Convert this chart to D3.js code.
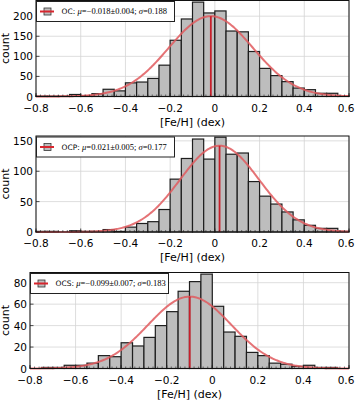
<!DOCTYPE html>
<html>
<head>
<meta charset="utf-8">
<script src="https://cdn.jsdelivr.net/npm/d3@7"></script>
<style>
  body { margin: 0; background: #fff; }
  svg { display: block; }
</style>
</head>
<body>
<svg id="chart" width="355" height="400"></svg>
<script>
// histogram bins (left edges, dex) and counts
const binStarts = [-0.80, -0.75, -0.70, -0.65, -0.60, -0.55, -0.50, -0.45, -0.40, -0.35,
                   -0.30, -0.25, -0.20, -0.15, -0.10, -0.05, 0.00, 0.05, 0.10, 0.15,
                   0.20, 0.25, 0.30, 0.35, 0.40, 0.45, 0.50, 0.55];
const binWidth = 0.05;

const ocCounts  = [1, 1, 1, 5, 2, 7, 18, 14, 34, 36, 45, 78, 140, 193, 235, 208, 213, 163, 161, 112, 70, 52, 37, 21, 17, 8, 8, 1];
const ocpCounts = [1, 1, 0, 2, 1, 1, 4, 1, 8, 14, 17, 37, 87, 121, 153, 120, 156, 128, 130, 83, 59, 46, 33, 20, 11, 6, 6, 1];
const ocsCounts = [0, 1, 1, 3, 3, 5, 12, 11, 24, 21, 29, 40, 53, 72, 81, 88, 58, 34, 30, 15, 12, 5, 4, 2, 3, 1, 1, 0];

// gaussian fits (from legend) + peak height
const sampleNames = ["OC", "OCP", "OCS"];
const fitMu    = [-0.018, 0.021, -0.099];
const fitErr   = [0.004, 0.005, 0.007];
const fitSigma = [0.188, 0.177, 0.183];
const fitPeak  = [200, 142, 67];

const xTicks = [-0.8, -0.6, -0.4, -0.2, 0, 0.2, 0.4, 0.6];
const yTicks = [[0, 50, 100, 150, 200], [0, 50, 100, 150], [0, 20, 40, 60, 80]];
const yMax = [239, 158, 89.5];

const allCounts = [ocCounts, ocpCounts, ocsCounts];

// layout
const panelTop = [0.5, 136, 272.5];
const panelLeft = [36, 36, 30];
const panelRight = 349;
const panelHeight = 96;

const svg = d3.select("#chart");
const fmt = d => (d < 0 ? "\u2212" : "") + (d === 0 ? "0" : d3.format(".1f")(Math.abs(d)));

function fmt3(v) {
    return (v < 0 ? "\u2212" : "") + d3.format(".3f")(Math.abs(v));
}

function drawPanel(i) {
    const counts = allCounts[i];
    const top = panelTop[i], left = panelLeft[i];
    const bottom = top + panelHeight;

    const x = d3.scaleLinear().domain([-0.8, 0.6]).range([left, panelRight]);
    const y = d3.scaleLinear().domain([0, yMax[i]]).range([bottom, top]);

    const g = svg.append("g");

    // grid
    g.selectAll("line.vgrid")
        .data(xTicks)
        .enter().append("line")
        .attr("x1", d => x(d)).attr("x2", d => x(d))
        .attr("y1", top).attr("y2", bottom)
        .attr("stroke", "#d4d4d4").attr("stroke-width", 0.8);
    g.selectAll("line.hgrid")
        .data(yTicks[i])
        .enter().append("line")
        .attr("x1", left).attr("x2", panelRight)
        .attr("y1", d => y(d)).attr("y2", d => y(d))
        .attr("stroke", "#d4d4d4").attr("stroke-width", 0.8);

    // bars
    g.selectAll("rect.bar")
        .data(counts)
        .enter().append("rect")
        .attr("x", (d, j) => x(binStarts[j]))
        .attr("y", d => y(d))
        .attr("width", (d, j) => x(binStarts[j] + binWidth) - x(binStarts[j]))
        .attr("height", d => y(0) - y(d))
        .attr("fill", "#bdbdbd")
        .attr("stroke", "#1e1e1e")
        .attr("stroke-width", 1.2);

    // gaussian fit
    const mu = fitMu[i], s = fitSigma[i], A = fitPeak[i];
    const gauss = v => A * Math.exp(-0.5 * ((v - mu) / s) ** 2);
    const xs = d3.range(-0.8, 0.6001, 0.005);
    g.append("path")
        .datum(xs)
        .attr("d", d3.line().x(d => x(d)).y(d => y(gauss(d))))
        .attr("fill", "none")
        .attr("stroke", "#e05a5e")
        .attr("stroke-opacity", 0.85)
        .attr("stroke-width", 2);

    // mean line
    g.append("line")
        .attr("x1", x(mu)).attr("x2", x(mu))
        .attr("y1", y(0)).attr("y2", y(A))
        .attr("stroke", "#c8202c")
        .attr("stroke-width", 1.8);

    // minor ticks (inward) on bottom
    const minor = d3.range(-0.8, 0.6001, 0.02);
    g.selectAll("line.minor")
        .data(minor)
        .enter().append("line")
        .attr("x1", d => x(d)).attr("x2", d => x(d))
        .attr("y1", bottom).attr("y2", bottom - 2)
        .attr("stroke", "#222").attr("stroke-width", 0.6);

    // major ticks
    g.selectAll("line.xt")
        .data(xTicks)
        .enter().append("line")
        .attr("x1", d => x(d)).attr("x2", d => x(d))
        .attr("y1", bottom).attr("y2", bottom - 3.5)
        .attr("stroke", "#222").attr("stroke-width", 0.8);
    g.selectAll("line.yt")
        .data(yTicks[i])
        .enter().append("line")
        .attr("x1", left).attr("x2", left + 3.5)
        .attr("y1", d => y(d)).attr("y2", d => y(d))
        .attr("stroke", "#222").attr("stroke-width", 0.8);

    // frame
    g.append("rect")
        .attr("x", left).attr("y", top)
        .attr("width", panelRight - left).attr("height", panelHeight)
        .attr("fill", "none").attr("stroke", "#111").attr("stroke-width", 1);

    // tick labels (last one pulled in so it stays inside the page)
    g.selectAll("text.xl")
        .data(xTicks)
        .enter().append("text")
        .attr("x", d => Math.min(x(d), 346))
        .attr("y", bottom + 15)
        .attr("text-anchor", "middle")
        .style("font-family", "DejaVu Sans")
        .style("font-size", "10.5px")
        .text(fmt);
    g.selectAll("text.yl")
        .data(yTicks[i])
        .enter().append("text")
        .attr("x", left - 3)
        .attr("y", d => y(d) + 4)
        .attr("text-anchor", "end")
        .style("font-family", "DejaVu Sans")
        .style("font-size", "10.5px")
        .text(d => d);

    // axis labels
    g.append("text")
        .attr("x", (left + panelRight) / 2)
        .attr("y", bottom + 29)
        .attr("text-anchor", "middle")
        .style("font-family", "DejaVu Sans")
        .style("font-size", "11px")
        .text("[Fe/H] (dex)");
    g.append("text")
        .attr("transform", `translate(9,${top + panelHeight / 2}) rotate(-90)`)
        .attr("text-anchor", "middle")
        .style("font-family", "DejaVu Sans")
        .style("font-size", "11px")
        .text("count");

    // legend
    const ly = top + 1, lh = 20, cy = ly + lh / 2;
    g.append("rect")
        .attr("x", left + 0.5).attr("y", ly)
        .attr("width", 138).attr("height", lh)
        .attr("fill", "#fff").attr("stroke", "#222").attr("stroke-width", 1);
    g.append("rect")
        .attr("x", left + 8).attr("y", cy - 3.5)
        .attr("width", 7).attr("height", 7)
        .attr("fill", "#bdbdbd").attr("stroke", "#333").attr("stroke-width", 0.8);
    g.append("line")
        .attr("x1", left + 4).attr("x2", left + 18)
        .attr("y1", cy).attr("y2", cy)
        .attr("stroke", "#d8262e").attr("stroke-width", 2);

    const t = g.append("text")
        .attr("x", left + 25.5)
        .attr("y", cy + 2.8)
        .style("font-size", "7.5px");
    t.append("tspan").style("font-family", "DejaVu Sans").text(sampleNames[i] + ": ");
    t.append("tspan").style("font-family", "Liberation Serif").style("font-style", "italic").style("font-size", "8.5px").text("\u03bc");
    t.append("tspan").style("font-family", "Liberation Serif").style("font-size", "8.5px")
        .text("=" + fmt3(mu) + "\u00b1" + d3.format(".3f")(fitErr[i]) + "; ");
    t.append("tspan").style("font-family", "Liberation Serif").style("font-style", "italic").style("font-size", "8.5px").text("\u03c3");
    t.append("tspan").style("font-family", "Liberation Serif").style("font-size", "8.5px")
        .text("=" + d3.format(".3f")(fitSigma[i]));
}

[0, 1, 2].forEach(drawPanel);
</script>
</body>
</html>
